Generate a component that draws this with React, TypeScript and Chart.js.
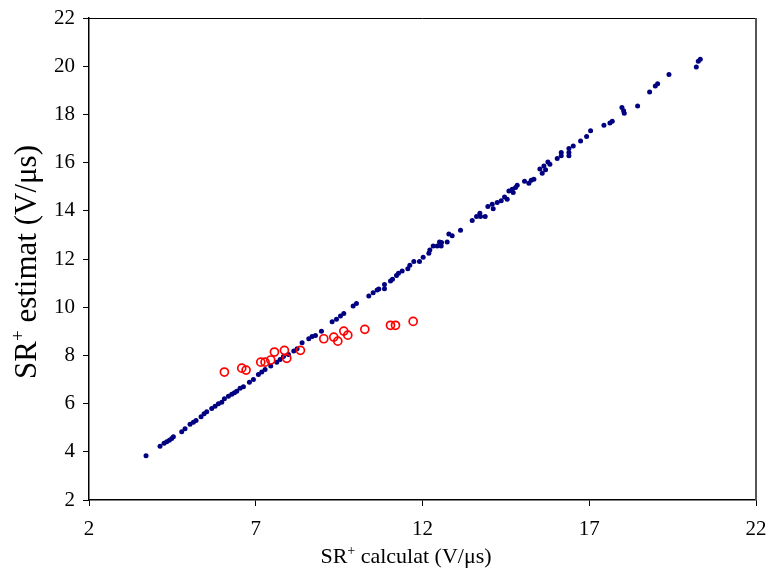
import React, { useEffect, useRef } from "react";
import { Chart, registerables } from "chart.js";

Chart.register(...registerables);

// Measured slew rate (x) vs. estimated slew rate (y), V/µs
const fitX = [
  3.71, 4.13, 4.25, 4.33, 4.41, 4.48, 4.53, 4.78, 4.88, 5.03, 5.13, 5.21, 5.36, 5.45, 5.53, 5.68, 5.78, 5.88, 5.98, 6.06,
  6.18, 6.28, 6.36, 6.43, 6.53, 6.63, 6.81, 6.93, 7.08, 7.18, 7.28, 7.45, 7.63, 7.73, 7.83, 7.98, 8.14, 8.24, 8.39, 8.59,
  8.69, 8.79, 8.97, 9.29, 9.42, 9.54, 9.64, 9.92, 10.02, 10.39, 10.52, 10.64, 10.69, 10.86, 10.86, 11.04, 11.1, 11.22, 11.28, 11.39,
  11.56, 11.62, 11.74, 11.91, 12.02, 12.19, 12.22, 12.32, 12.44, 12.51, 12.56, 12.57, 12.74, 12.79, 12.89, 13.14, 13.49, 13.62, 13.72, 13.74,
  13.88, 13.96, 14.09, 14.12, 14.24, 14.36, 14.46, 14.54, 14.59, 14.69, 14.72, 14.79, 14.84, 15.06, 15.19, 15.26, 15.34, 15.52, 15.59, 15.64,
  15.69, 15.76, 15.82, 16.04, 16.16, 16.16, 16.39, 16.39, 16.39, 16.52, 16.74, 16.92, 17.04, 17.44, 17.62, 17.69, 17.98, 18.03, 18.05, 18.45,
  18.81, 18.98, 19.05, 19.39, 20.21, 20.27, 20.33,
];
const fitY = [
  3.84, 4.23, 4.35, 4.42, 4.48, 4.55, 4.62, 4.83, 4.96, 5.14, 5.23, 5.3, 5.45, 5.58, 5.66, 5.8, 5.89, 5.99, 6.06, 6.2,
  6.31, 6.39, 6.45, 6.51, 6.64, 6.7, 6.89, 7.0, 7.21, 7.31, 7.42, 7.56, 7.72, 7.83, 7.95, 8.04, 8.18, 8.28, 8.53, 8.69,
  8.78, 8.83, 9.0, 9.4, 9.5, 9.63, 9.74, 10.05, 10.15, 10.46, 10.6, 10.71, 10.76, 10.77, 10.94, 11.09, 11.16, 11.32, 11.41, 11.5,
  11.6, 11.74, 11.9, 11.9, 12.07, 12.24, 12.37, 12.54, 12.54, 12.71, 12.54, 12.68, 12.71, 13.04, 12.96, 13.19, 13.6, 13.76, 13.9, 13.76,
  13.76, 14.18, 14.27, 14.09, 14.34, 14.42, 14.57, 14.48, 14.82, 14.89, 14.76, 14.97, 15.06, 15.23, 15.14, 15.27, 15.31, 15.73, 15.56, 15.86,
  15.7, 16.03, 15.93, 16.17, 16.28, 16.42, 16.58, 16.42, 16.28, 16.69, 16.9, 17.08, 17.32, 17.55, 17.64, 17.72, 18.29, 18.15, 18.05, 18.35,
  18.93, 19.18, 19.27, 19.66, 19.97, 20.21, 20.29,
];

// Outlier cases
const outX = [6.06, 6.58, 6.71, 7.15, 7.28, 7.45, 7.56, 7.86, 7.93, 8.34, 9.04, 9.34, 9.46, 9.64, 9.76, 10.27, 11.04, 11.19, 11.72];
const outY = [7.31, 7.47, 7.39, 7.72, 7.72, 7.81, 8.14, 8.21, 7.88, 8.21, 8.69, 8.76, 8.59, 9.01, 8.84, 9.08, 9.25, 9.25, 9.41];

const xTicks = [2, 7, 12, 17, 22];
const yTicks = [2, 4, 6, 8, 10, 12, 14, 16, 18, 20, 22];

const xTitle = ["SR", "+", " calculat (V/\u03bcs)"];
const yTitle = ["SR", "+", " estimat (V/\u03bcs)"];

const FAMILY = '"Liberation Serif", "Times New Roman", serif';

function drawSupTitle(ctx: CanvasRenderingContext2D, parts: string[], cx: number, cy: number, size: number) {
  const big = `${size}px ${FAMILY}`;
  const small = `${Math.round(size * 0.62)}px ${FAMILY}`;
  ctx.font = big;
  const w0 = ctx.measureText(parts[0]).width;
  const w2 = ctx.measureText(parts[2]).width;
  ctx.font = small;
  const w1 = ctx.measureText(parts[1]).width;
  const total = w0 + w1 + w2;
  let x = cx - total / 2;
  ctx.fillStyle = "#000";
  ctx.textBaseline = "alphabetic";
  ctx.textAlign = "left";
  const base = cy + size * 0.33;
  ctx.font = big;
  ctx.fillText(parts[0], x, base);
  x += w0;
  ctx.font = small;
  ctx.fillText(parts[1], x, base - size * 0.38);
  x += w1;
  ctx.font = big;
  ctx.fillText(parts[2], x, base);
}

const framePlugin = {
  id: "frameAndTitles",
  afterDraw(chart: any) {
    const { ctx, chartArea } = chart;
    const { left, right, top, bottom } = chartArea;
    ctx.save();
    ctx.strokeStyle = "#000";
    ctx.lineWidth = 1;
    ctx.beginPath();
    ctx.moveTo(left, top + 0.5);
    ctx.lineTo(right, top + 0.5);
    ctx.stroke();
    ctx.strokeStyle = "#555";
    ctx.lineWidth = 2;
    ctx.beginPath();
    ctx.moveTo(right, top);
    ctx.lineTo(right, bottom);
    ctx.stroke();

    drawSupTitle(ctx, xTitle, 406, 556, 22);
    ctx.translate(26, 262);
    ctx.rotate(-Math.PI / 2);
    drawSupTitle(ctx, yTitle, 0, 0, 31);
    ctx.restore();
  },
};

export default function App() {
  const ref = useRef<HTMLCanvasElement | null>(null);

  useEffect(() => {
    if (!ref.current) return;
    const chart = new Chart(ref.current, {
      type: "scatter",
      data: {
        datasets: [
          {
            label: "outliers",
            data: outX.map((x, i) => ({ x, y: outY[i] })),
            pointRadius: 4,
            pointStyle: "circle",
            borderColor: "#ff0000",
            backgroundColor: "rgba(255,255,255,0)",
            borderWidth: 1.7,
          },
          {
            label: "fit",
            data: fitX.map((x, i) => ({ x, y: fitY[i] })),
            pointRadius: 2.5,
            borderWidth: 0,
            backgroundColor: "#000080",
            borderColor: "#000080",
          },
        ],
      },
      options: {
        responsive: false,
        animation: false,
        devicePixelRatio: 1,
        layout: { padding: { left: 0, right: 11, top: 18, bottom: 0 } },
        plugins: { legend: { display: false }, tooltip: { enabled: false } },
        scales: {
          x: {
            type: "linear",
            min: 2,
            max: 22,
            afterBuildTicks: (s: any) => {
              s.ticks = xTicks.map((v) => ({ value: v }));
            },
            afterFit: (s: any) => {
              s.height = 74;
              s.paddingLeft = 0;
              s.paddingRight = 0;
            },
            ticks: {
              color: "#000",
              font: { family: FAMILY, size: 21 },
              padding: 11,
              maxRotation: 0,
            },
            grid: { drawOnChartArea: false, color: "#000", tickLength: 6 },
            border: { color: "#000", width: 1.5 },
          },
          y: {
            type: "linear",
            min: 2,
            max: 22,
            afterBuildTicks: (s: any) => {
              s.ticks = yTicks.map((v) => ({ value: v }));
            },
            afterFit: (s: any) => {
              s.width = 89;
              s.paddingTop = 0;
              s.paddingBottom = 0;
            },
            ticks: {
              color: "#000",
              font: { family: FAMILY, size: 21 },
              padding: 8,
            },
            grid: { drawOnChartArea: false, color: "#000", tickLength: 6 },
            border: { color: "#000", width: 1.5 },
          },
        },
      },
      plugins: [framePlugin],
    });
    return () => chart.destroy();
  }, []);

  return (
    <div style={{ position: "fixed", left: 0, top: 0, width: 767, height: 574, background: "#fff" }}>
      <canvas ref={ref} width={767} height={574} style={{ display: "block" }} />
    </div>
  );
}
